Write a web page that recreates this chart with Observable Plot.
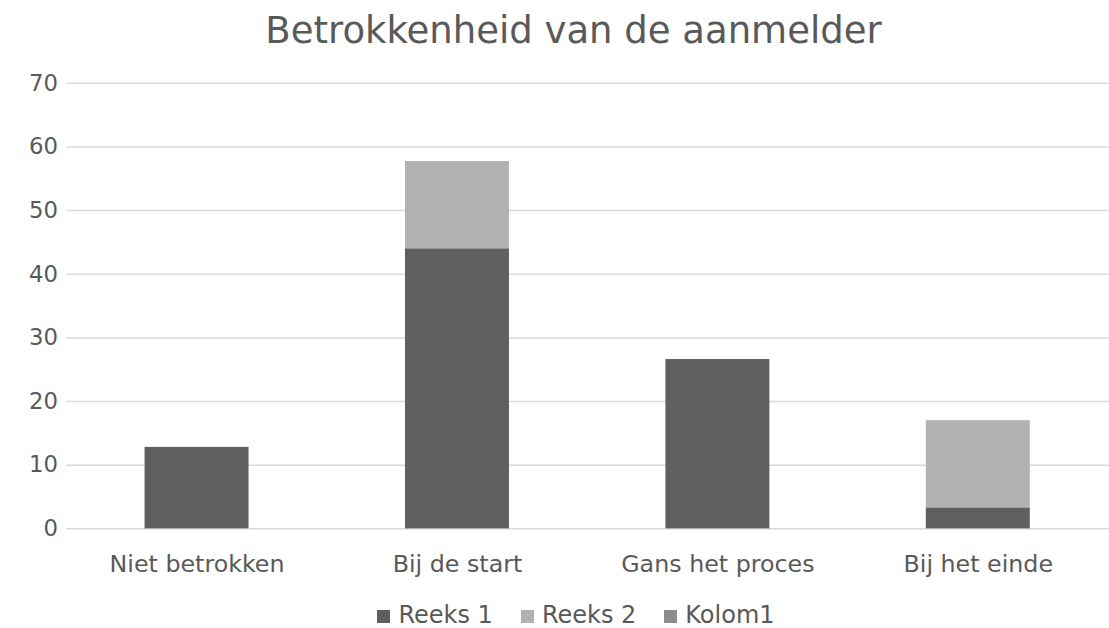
<!DOCTYPE html>
<html>
<head>
<meta charset="utf-8">
<script src="https://cdn.jsdelivr.net/npm/d3@7"></script>
<script src="https://cdn.jsdelivr.net/npm/@observablehq/plot@0.6"></script>
<style>
  html, body { margin: 0; padding: 0; background: #fff; overflow: hidden; width: 1109px; height: 628px; position: relative; }
  body { font-family: "DejaVu Sans", sans-serif; color: #595959; }
  #title { height: 60px; line-height: 62px; text-align: center; font-size: 37px; color: #595959; white-space: nowrap; padding-left: 38px; }
  #chart { height: 520px; }
  #legend { position: absolute; left: 0; width: 1109px; top: 604px; height: 22px; line-height: 22px; box-sizing: border-box; display: flex; justify-content: center; gap: 28px; font-size: 24px; color: #595959; padding-left: 43px; }
  .item { display: flex; align-items: center; gap: 8px; }
  .sw { width: 13px; height: 13px; display: inline-block; margin-top: 3px; }
</style>
</head>
<body>
<div id="title">Betrokkenheid van de aanmelder</div>
<div id="chart"></div>
<div id="legend"></div>
<script>
const categories = ["Niet betrokken", "Bij de start", "Gans het proces", "Bij het einde"];
const seriesNames = ["Reeks 1", "Reeks 2", "Kolom1"];
const reeks1 = [12.8, 44.0, 26.6, 3.3];
const reeks2 = [0, 13.7, 0, 13.7];
const kolom1 = [0, 0, 0, 0];
const colors = ["#5f5f5f", "#b2b2b2", "#8c8c8c"];
const yTicks = [0, 10, 20, 30, 40, 50, 60, 70];

const seriesValues = [reeks1, reeks2, kolom1];
const data = [];
seriesNames.forEach((s, si) => {
  categories.forEach((c, ci) => {
    data.push({category: c, series: s, value: seriesValues[si][ci]});
  });
});

const chart = Plot.plot({
  width: 1120,
  height: 520,
  marginLeft: 67,
  marginRight: 0,
  marginTop: 23,
  marginBottom: 47,
  style: { fontFamily: '"DejaVu Sans", sans-serif', fontSize: "23px", color: "#595959", background: "#fff", overflow: "visible" },
  x: { domain: categories, paddingInner: 0.6, paddingOuter: 0.3, label: null },
  y: { domain: [0, 70], ticks: yTicks, label: null },
  color: { domain: seriesNames, range: colors },
  marks: [
    Plot.ruleY(yTicks, { stroke: "#d9d9d9", strokeWidth: 1.5 }),
    Plot.barY(data, Plot.stackY({ x: "category", y: "value", fill: "series", order: seriesNames })),
    Plot.axisY({ ticks: yTicks, tickSize: 0, tickPadding: 9, fontSize: 23, fill: "#595959", label: null }),
    Plot.axisX({ tickSize: 0, tickPadding: 27, fontSize: 24, fill: "#595959", label: null })
  ]
});
document.getElementById("chart").appendChild(chart);

const legend = document.getElementById("legend");
seriesNames.forEach((s, i) => {
  const it = document.createElement("div");
  it.className = "item";
  const sw = document.createElement("span");
  sw.className = "sw";
  sw.style.background = colors[i];
  const t = document.createElement("span");
  t.textContent = s;
  it.appendChild(sw); it.appendChild(t);
  legend.appendChild(it);
});
</script>
</body>
</html>
